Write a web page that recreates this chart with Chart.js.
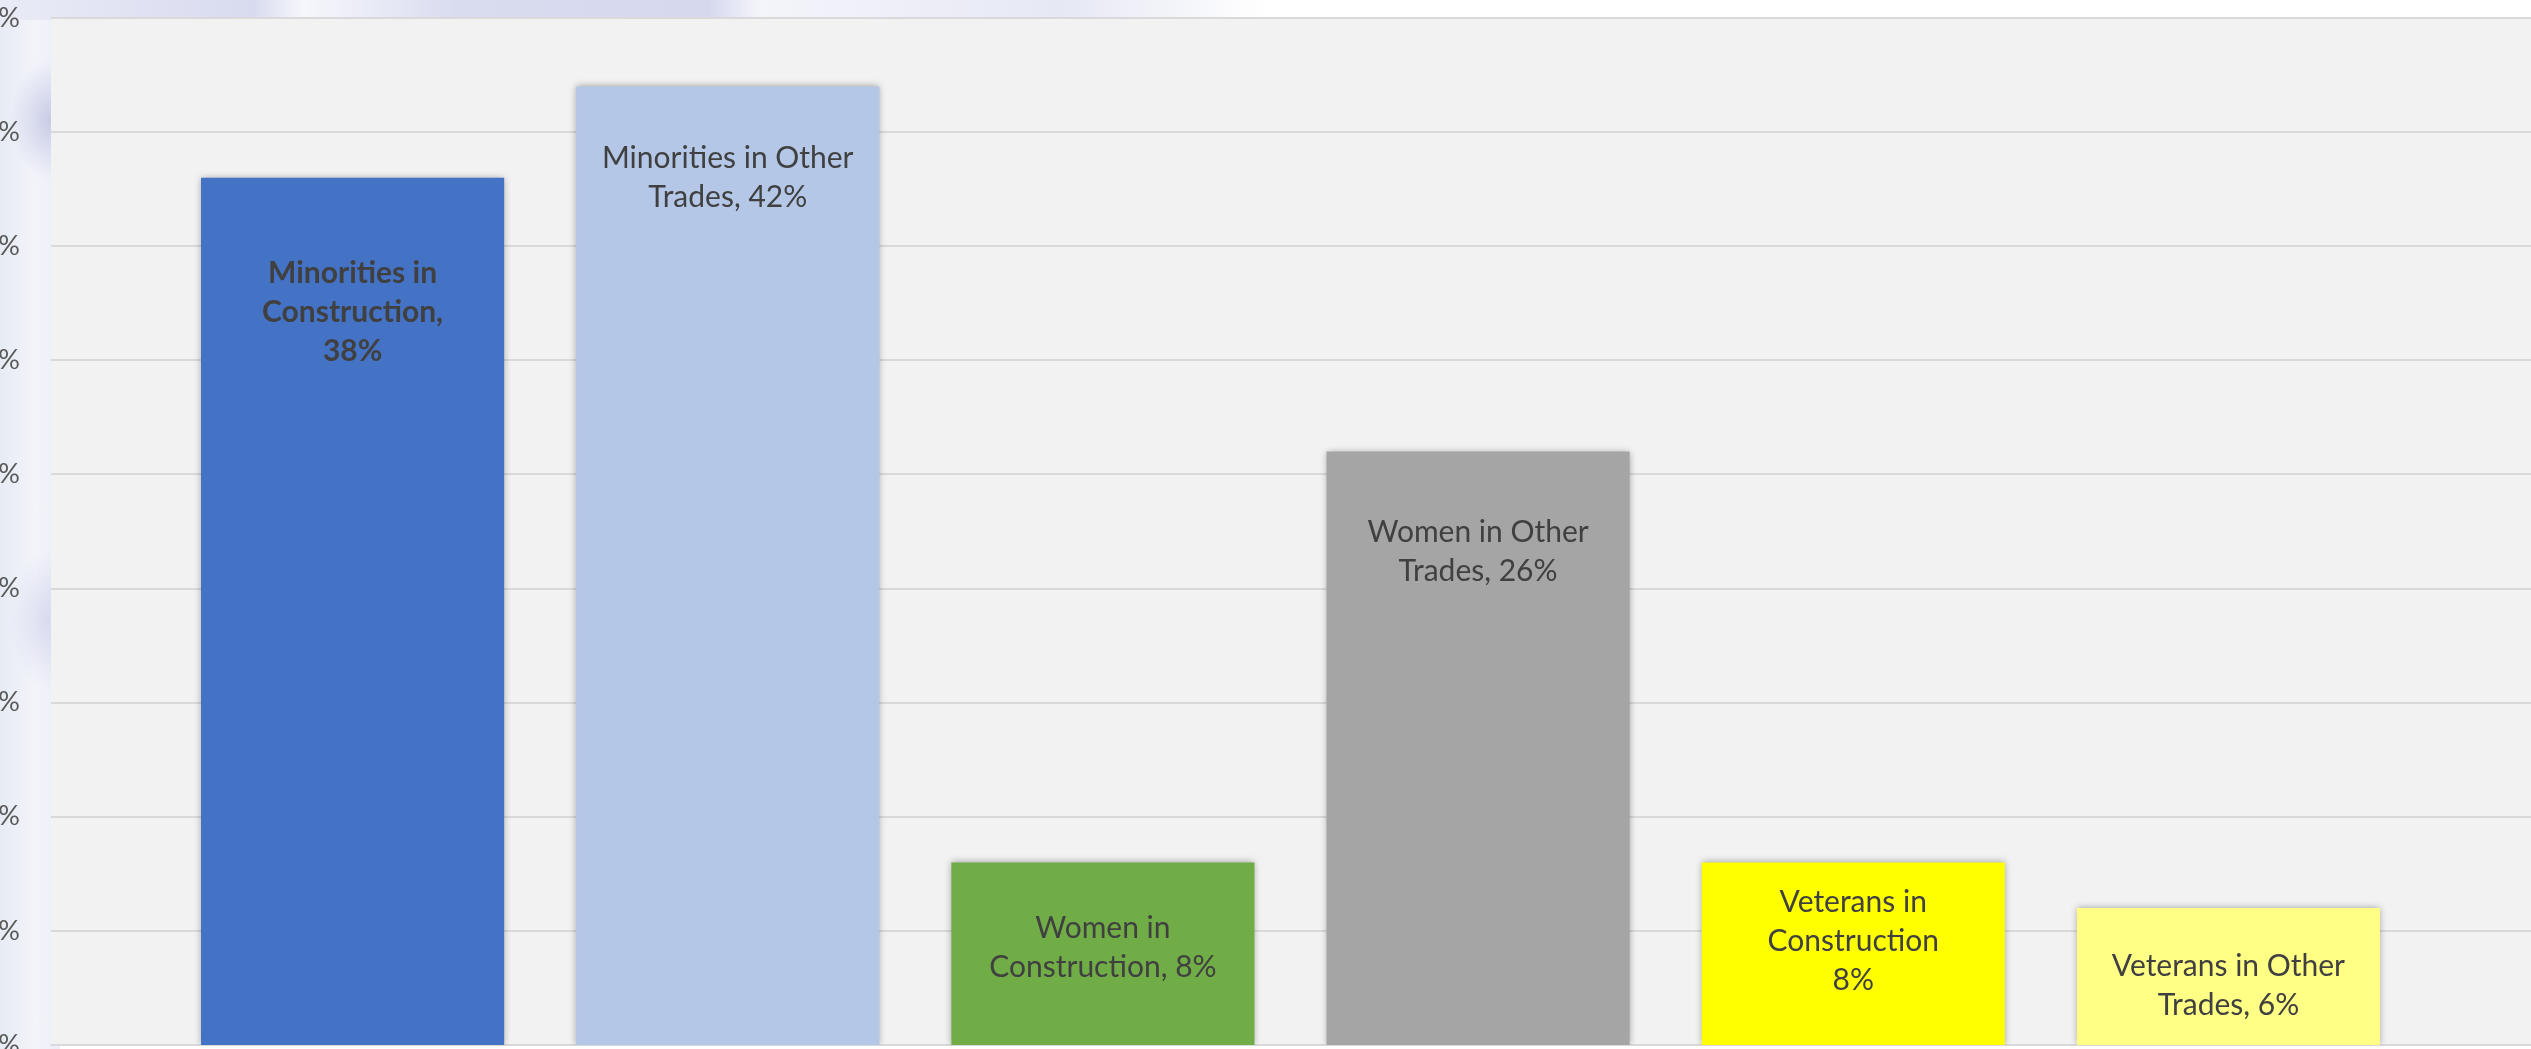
<!DOCTYPE html>
<html>
<head>
<meta charset="utf-8">
<script src="https://cdn.jsdelivr.net/npm/chart.js@4/dist/chart.umd.min.js"></script>
<style>
  html, body { margin: 0; padding: 0; overflow: hidden; }
  body {
    width: 2531px; height: 1049px; position: relative;
    background: #ffffff;
  }
  #strip-left {
    position: absolute; left: 0; top: 0; width: 60px; height: 1049px;
    background:
      radial-gradient(ellipse 40px 60px at 50px 120px, rgba(196, 200, 228, 0.9), rgba(196, 200, 228, 0) 100%),
      radial-gradient(ellipse 40px 70px at 50px 620px, rgba(210, 212, 236, 0.8), rgba(210, 212, 236, 0) 100%),
      linear-gradient(90deg, #e6ebf4 0%, #f3f4fa 60%, #eceef8 100%);
  }
  #strip-top {
    position: absolute; left: 0; top: 0; width: 2531px; height: 20px;
    background: linear-gradient(90deg, #e9ebf6 0%, #d8dbef 10%, #f6f7fc 12%, #d9dcef 18%, #d6d9ee 28%, #f4f5fb 30%, #e6e8f4 42%, #ffffff 50%, #ffffff 100%);
  }
  #chart { position: absolute; left: -60px; top: 0; }
</style>
</head>
<body>
<div id="strip-left"></div>
<div id="strip-top"></div>
<canvas id="chart" width="2591" height="1065"></canvas>
<script>
  const CATEGORIES = [
    "Minorities in Construction",
    "Minorities in Other Trades",
    "Women in Construction",
    "Women in Other Trades",
    "Veterans in Construction",
    "Veterans in Other Trades",
  ];
  const VALUES = [38, 42, 8, 26, 8, 6];
  const BAR_COLORS = ["#4472C4", "#B4C7E7", "#70AD47", "#A5A5A5", "#FFFF00", "#FFFF85"];

  // data label text, broken into lines the way the original labels wrap
  const LABEL_LINES = [
    ["Minorities in", "Construction,", "38%"],
    ["Minorities in Other", "Trades, 42%"],
    ["Women in", "Construction, 8%"],
    ["Women in Other", "Trades, 26%"],
    ["Veterans in", "Construction", "8%"],
    ["Veterans in Other", "Trades, 6%"],
  ];
  const LABEL_BOLD = [true, false, false, false, false, false];
  // how far below the bar top the middle of each label block sits (the
  // labels were dragged by hand in the original, so they don't line up)
  const LABEL_DROP = [135, 91, 85, 100, 79, 78];

  const Y_MIN = 0, Y_MAX = 45, Y_STEP = 5;
  const GRID = "#D9D9D9";
  const SIDE = 114; // plot area runs this far past the category range on both sides

  const plotArea = {
    id: "plotArea",
    beforeDraw(chart) {
      const a = chart.chartArea, ctx = chart.ctx;
      ctx.save();
      ctx.fillStyle = "#F2F2F2";
      ctx.fillRect(a.left - SIDE, a.top, a.right - a.left + SIDE * 2 + 1, a.bottom - a.top);
      ctx.restore();
    },
    beforeDatasetsDraw(chart) {
      const ctx = chart.ctx;
      ctx.save();
      ctx.shadowColor = "rgba(0,0,0,0.35)";
      ctx.shadowBlur = 7;
      ctx.shadowOffsetX = 0;
      ctx.shadowOffsetY = 0;
    },
    afterDatasetsDraw(chart) {
      const ctx = chart.ctx;
      ctx.restore();
      const meta = chart.getDatasetMeta(0);
      ctx.save();
      ctx.fillStyle = "#404040";
      ctx.textAlign = "center";
      ctx.textBaseline = "middle";
      const lineH = 39;
      meta.data.forEach(function (bar, i) {
        const lines = LABEL_LINES[i];
        ctx.font = (LABEL_BOLD[i] ? "bold " : "") + "30px Lato";
        const mid = bar.y + LABEL_DROP[i];
        const first = mid - (lines.length - 1) * lineH / 2;
        lines.forEach(function (t, k) {
          ctx.fillText(t, bar.x, first + k * lineH);
        });
      });
      ctx.restore();
    },
  };

  new Chart(document.getElementById("chart"), {
    type: "bar",
    data: {
      labels: CATEGORIES,
      datasets: [{
        data: VALUES,
        backgroundColor: BAR_COLORS,
        borderWidth: 0,
        barPercentage: 0.808,
        categoryPercentage: 1,
      }],
    },
    options: {
      responsive: false,
      devicePixelRatio: 1,
      animation: false,
      layout: { padding: { top: 18, bottom: 20, left: 0, right: 0 } },
      plugins: { legend: { display: false }, tooltip: { enabled: false } },
      scales: {
        x: {
          display: false,
          offset: true,
          grid: { display: false },
        },
        // percent labels only; an invisible 31px tick keeps them clear of the plot
        y: {
          min: Y_MIN,
          max: Y_MAX,
          position: "left",
          weight: 1,
          border: { display: false },
          grid: { display: false, drawTicks: true, tickLength: 31 },
          ticks: {
            stepSize: Y_STEP,
            padding: 0,
            color: "#595959",
            font: { family: "Lato", size: 27 },
            callback: function (v) { return v + "%"; },
          },
          afterFit: function (scale) { scale.width = 111; },
        },
        // gridlines, carried SIDE px left of the first category
        yGrid: {
          min: Y_MIN,
          max: Y_MAX,
          position: "left",
          weight: 0,
          border: { display: false },
          grid: { color: GRID, lineWidth: 2, tickLength: SIDE },
          ticks: { stepSize: Y_STEP, display: false },
          afterFit: function (scale) { scale.width = SIDE; },
        },
        y2: {
          min: Y_MIN,
          max: Y_MAX,
          position: "right",
          border: { display: false },
          grid: { color: GRID, lineWidth: 2, tickLength: SIDE + 1, drawOnChartArea: false },
          ticks: { stepSize: Y_STEP, display: false },
          afterFit: function (scale) { scale.width = SIDE + 1; },
        },
      },
    },
    plugins: [plotArea],
  });
</script>
</body>
</html>
